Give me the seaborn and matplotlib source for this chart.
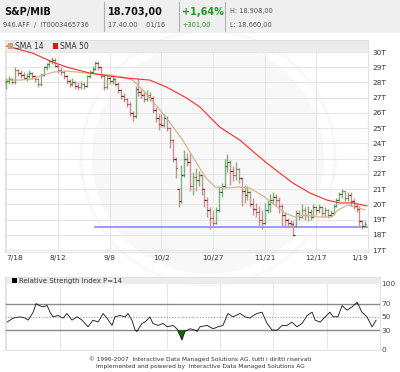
import numpy as np
import seaborn as sns
import matplotlib.pyplot as plt
from matplotlib.patches import Rectangle, Circle


# daily OHLC of the index, in thousands (T)
opens = [
    28.0, 28.1, 28.2, 28.0, 28.8, 28.6, 28.5, 28.3, 28.4, 28.6,
    28.4, 28.2, 27.9, 28.5, 29.0, 29.2, 29.4, 29.5, 29.1, 28.8,
    28.7, 28.4, 28.1, 27.9, 28.0, 27.8, 27.7, 27.9, 27.8, 28.4,
    28.7, 28.9, 29.3, 29.0, 28.4, 27.7, 28.3, 28.1, 28.2, 27.9,
    27.5, 27.1, 26.9, 26.6, 26.0, 25.8, 27.6, 27.4, 27.2, 26.9,
    27.2, 27.0, 26.2, 25.7, 25.3, 25.2, 25.7, 25.0, 24.2, 23.0,
    21.0, 20.2, 21.9, 23.0, 22.8, 21.2, 21.8, 21.6, 21.9, 21.0,
    20.3, 19.6, 19.1, 18.8, 19.6, 20.8, 21.2, 22.5, 22.8, 22.2,
    21.9, 22.3, 21.7, 20.9, 20.6, 20.8, 20.0, 19.7, 19.5, 19.0,
    18.8, 19.6, 20.0, 20.3, 20.5, 20.3, 19.9, 19.3, 19.0, 18.8,
    18.7, 18.6, 19.4, 19.2, 19.6, 19.3, 19.5, 19.2, 19.8, 19.6,
    19.8, 19.4, 19.6, 19.3, 19.4, 19.9, 20.3, 20.7, 20.9, 20.4,
    20.6, 20.2, 19.9, 19.7, 18.9, 18.6,
]
highs = [
    28.3, 28.4, 28.3, 29.0, 28.9, 28.8, 28.7, 28.6, 28.8, 28.7,
    28.5, 28.3, 28.6, 29.1, 29.3, 29.5, 29.7, 29.6, 29.2, 29.0,
    28.8, 28.5, 28.2, 28.3, 28.1, 28.0, 28.1, 28.0, 28.5, 28.8,
    29.1, 29.4, 29.4, 29.1, 28.5, 28.4, 28.5, 28.4, 28.3, 28.0,
    27.6, 27.3, 27.0, 26.7, 26.1, 27.8, 28.3, 27.6, 27.4, 27.5,
    27.4, 27.1, 26.4, 25.9, 25.9, 25.9, 25.8, 25.1, 24.3, 23.1,
    21.1, 22.6, 23.6, 23.4, 23.4, 22.1, 22.4, 22.2, 21.9, 21.1,
    20.5, 19.8, 19.6, 19.8, 21.2, 21.4, 23.0, 23.3, 22.9, 22.5,
    22.8, 22.4, 21.8, 21.3, 21.2, 20.9, 20.4, 20.1, 19.9, 19.6,
    20.1, 20.3, 20.7, 20.8, 20.7, 20.5, 20.0, 19.5, 19.1, 19.0,
    18.9, 19.6, 19.6, 20.0, 19.8, 19.9, 19.7, 20.0, 19.9, 20.0,
    19.9, 19.8, 19.7, 19.6, 20.0, 20.4, 20.8, 21.0, 20.9, 20.8,
    20.8, 20.4, 20.1, 19.9, 19.0, 18.9,
]
lows = [
    27.6, 27.9, 27.9, 27.9, 28.4, 28.3, 28.2, 28.1, 28.3, 28.2,
    28.0, 27.7, 27.8, 28.4, 28.8, 29.0, 29.2, 29.0, 28.6, 28.5,
    28.2, 27.9, 27.7, 27.8, 27.6, 27.5, 27.6, 27.6, 27.7, 28.3,
    28.6, 28.8, 28.8, 28.3, 27.5, 27.6, 27.9, 27.9, 27.8, 27.3,
    26.9, 26.7, 26.4, 25.8, 25.5, 25.7, 27.1, 27.0, 26.7, 26.8,
    26.8, 26.0, 25.4, 24.9, 25.1, 25.1, 24.8, 23.7, 22.8, 21.7,
    19.8, 20.1, 21.8, 22.5, 20.9, 20.6, 20.9, 21.2, 20.6, 19.8,
    19.2, 18.4, 18.5, 18.7, 19.5, 20.5, 21.1, 22.1, 21.3, 21.5,
    21.6, 21.4, 19.9, 20.1, 20.3, 19.8, 19.3, 19.2, 18.5, 18.4,
    18.7, 19.4, 19.5, 20.0, 19.9, 19.4, 18.6, 18.5, 18.5, 18.5,
    17.9, 18.6, 19.0, 19.1, 19.0, 18.9, 19.0, 19.1, 19.3, 19.4,
    19.2, 19.2, 19.1, 19.2, 19.3, 19.8, 20.2, 20.4, 20.2, 20.2,
    19.9, 19.7, 19.5, 18.6, 18.4, 18.5,
]
closes = [
    28.1, 28.2, 28.0, 28.8, 28.6, 28.5, 28.3, 28.4, 28.6, 28.4,
    28.2, 27.9, 28.5, 29.0, 29.2, 29.4, 29.5, 29.1, 28.8, 28.7,
    28.4, 28.1, 27.9, 28.0, 27.8, 27.7, 27.9, 27.8, 28.4, 28.7,
    28.9, 29.3, 29.0, 28.4, 27.7, 28.3, 28.1, 28.2, 27.9, 27.5,
    27.1, 26.9, 26.6, 26.0, 25.8, 27.6, 27.4, 27.2, 26.9, 27.2,
    27.0, 26.2, 25.7, 25.3, 25.2, 25.7, 25.0, 24.2, 23.0, 22.4,
    20.2, 21.9, 23.0, 22.8, 21.2, 21.8, 21.6, 21.9, 21.0, 20.3,
    19.6, 19.1, 18.8, 19.6, 20.8, 21.2, 22.5, 22.8, 22.2, 21.9,
    22.3, 21.7, 20.9, 20.6, 20.8, 20.0, 19.7, 19.5, 19.0, 18.8,
    19.6, 20.0, 20.3, 20.5, 20.3, 19.9, 19.3, 19.0, 18.8, 18.7,
    18.0, 19.4, 19.2, 19.6, 19.3, 19.5, 19.2, 19.8, 19.6, 19.8,
    19.4, 19.6, 19.3, 19.4, 19.9, 20.3, 20.7, 20.9, 20.4, 20.6,
    20.2, 19.9, 19.7, 18.9, 18.6, 18.7,
]

date_labels = ["7/18", "8/12", "9/8", "10/2", "10/27", "11/21", "12/17", "1/19"]
date_pos = [0, 18, 36, 54, 72, 90, 108, 126]

# moving averages (bar index, value)
sma14_idx = [0, 4.5, 9.1, 12.6, 16.8, 20.9, 24.4, 27.9, 31.4, 36, 40.5, 44, 47.8,
             54.1, 57.6, 61.5, 64, 65.7, 69.2, 72.7, 77.1, 80.6, 84.8, 90, 93.5,
             97, 100.5, 104, 108.6, 113.4, 115.5, 119, 122.5, 125]
sma14_val = [28.16, 28.16, 28.23, 28.49, 28.69, 28.75, 28.69, 28.62, 28.56, 28.49,
             28.36, 28.16, 27.45, 26.06, 25.2, 24.2, 23.4, 22.9, 21.8, 21.14, 21.07,
             21.14, 21.07, 20.48, 19.95, 19.43, 19.17, 19.3, 19.17, 19.17, 19.63,
             19.95, 19.76, 19.63]
sma50_idx = [0, 9.1, 16.1, 20.9, 29, 36, 41.9, 49.9, 55.8, 62.8, 67.4, 74.3, 81.3,
             90.7, 99.8, 105.8, 111.7, 116.2, 120.8, 125.7]
sma50_val = [30.4, 29.93, 29.34, 29.02, 28.62, 28.42, 28.29, 28.16, 27.7, 26.98,
             26.39, 25.08, 24.22, 22.71, 21.4, 20.74, 20.28, 20.09, 20.09, 19.89]

support_level = 18.5
support_from = 30.4

# RSI(14)
rsi_idx = [0.2, 2.2, 4.6, 6.3, 7.3, 9.0, 10.0, 11.0, 12.3, 13.7, 14.7, 15.7, 17.4,
           19.1, 20.4, 22.1, 23.8, 25.5, 27.5, 29.2, 30.9, 32.6, 33.9, 35.6, 36.6,
           38.3, 40.0, 41.0, 42.3, 43.4, 44.0, 45.7, 46.7, 48.4, 49.4, 51.1, 52.8,
           54.2, 56.2, 57.5, 59.2, 60.2, 61.9, 63.6, 64.3, 65.3, 67.7, 69.7, 71.4,
           73.0, 74.7, 76.4, 78.8, 80.5, 82.2, 83.2, 84.5, 86.2, 87.9, 89.6, 91.3,
           93.0, 94.6, 96.3, 98.0, 99.7, 101.4, 103.1, 104.1, 105.8, 107.5, 109.1,
           110.2, 111.8, 113.2, 114.9, 116.6, 118.3, 119.9, 121.6, 123.3, 124.7]
rsi_val = [42, 48, 50, 48, 45, 57, 70, 67, 65, 67, 57, 50, 52, 48, 55, 45, 50, 45,
           35, 45, 42, 55, 48, 37, 50, 52, 50, 55, 45, 30, 28, 40, 42, 50, 40, 37,
           40, 35, 37, 32, 15, 28, 32, 30, 28, 35, 37, 32, 35, 37, 55, 50, 55, 50,
           48, 52, 55, 57, 40, 30, 30, 37, 37, 42, 35, 40, 52, 57, 45, 42, 50, 57,
           50, 50, 67, 60, 65, 72, 57, 50, 35, 45]

UP_BAR, UP_TICK = "#7fb27f", "#1f6f1f"
DOWN_BAR, DOWN_TICK = "#c49494", "#8b1010"
GRID = "#e6e6e6"
BAND = "#ececec"
WATERMARK = "#f8f8f8"

sns.set_theme(style="white")
plt.rcParams["font.family"] = ["DejaVu Sans"]

W, H = 400, 372


def box(left, top, right, bottom):
    # pixel box -> figure fraction
    return [left / W, 1 - bottom / H, (right - left) / W, (bottom - top) / H]


fig = plt.figure(figsize=(4, 3.72), dpi=100)
fig.patch.set_facecolor("white")

# faint watermark behind everything
bg = fig.add_axes([0, 0, 1, 1], zorder=0)
bg.set_xlim(0, W)
bg.set_ylim(H, 0)
bg.axis("off")
bg.add_patch(Circle((208, 158), 116, fc=WATERMARK, ec="none"))
bg.add_patch(Circle((208, 158), 127, fc="none", ec=WATERMARK, lw=2))

# ---- price panel ----
ax = fig.add_axes(box(5, 40, 368, 252), zorder=1)
ax.set_facecolor("none")

o = np.array(opens)
h = np.array(highs)
lo = np.array(lows)
c = np.array(closes)
x = np.arange(len(c))
up = c >= o

ax.vlines(x[up], lo[up], h[up], color=UP_BAR, lw=1.0, zorder=3)
ax.vlines(x[~up], lo[~up], h[~up], color=DOWN_BAR, lw=1.0, zorder=3)
tick_cols = np.where(up, UP_TICK, DOWN_TICK)
ax.hlines(o, x - 0.45, x, colors=tick_cols, lw=0.9, zorder=3)
ax.hlines(c, x, x + 0.45, colors=tick_cols, lw=0.9, zorder=3)

sns.lineplot(x=sma14_idx, y=sma14_val, ax=ax, color="#d8b48e", lw=0.9,
             estimator=None, zorder=4)
sns.lineplot(x=sma50_idx, y=sma50_val, ax=ax, color="#ff2a2a", lw=0.8,
             estimator=None, zorder=4)
ax.hlines(support_level, support_from, 126, color="#8080ff", lw=1.1, zorder=2)

ax.axhspan(30.0, 31.0, color=BAND, lw=0, zorder=1.5)
ax.set_xlim(-0.5, 126)
ax.set_ylim(16.87, 30.79)
ax.set_yticks(range(17, 31))
ax.set_yticklabels([f"{v}T" for v in range(17, 31)])
ax.yaxis.tick_right()
ax.set_xticks(date_pos)
ax.set_xticklabels(date_labels)
ax.tick_params(axis="y", length=0, pad=3, labelsize=5.3, labelcolor="#333333")
ax.tick_params(axis="x", length=0, pad=2, labelsize=5.3, labelcolor="#333333")
xl = ax.get_xticklabels()
xl[0].set_ha("left")
xl[-1].set_ha("right")
ax.grid(True, color=GRID, lw=0.8)
ax.set_axisbelow(True)
ax.set(xlabel="", ylabel="")
for sp in ax.spines.values():
    sp.set_color("#dddddd")
    sp.set_linewidth(0.6)

# ---- RSI panel ----
rx = fig.add_axes(box(5, 277, 380, 350), zorder=1)
rx.set_facecolor("none")
ri = np.array(rsi_idx)
rv = np.array(rsi_val)
rx.axhspan(100, 110, color=BAND, lw=0, zorder=1)
rx.axhline(70, color="#8a8a8a", lw=1.0, zorder=2)
rx.axhline(30, color="#8a8a8a", lw=1.0, zorder=2)
rx.axhline(50, color="#999999", lw=0.8, ls=(0, (1, 1.5)), zorder=2)
rx.fill_between(ri, rv, 30, where=rv < 30, interpolate=True, color="#0b6b0b",
                lw=0, zorder=3)
rx.fill_between(ri, rv, 70, where=rv > 70, interpolate=True, color="#a00000",
                lw=0, zorder=3)
sns.lineplot(x=rsi_idx, y=rsi_val, ax=rx, color="#111111", lw=0.6,
             estimator=None, zorder=4)
rx.set_xlim(-0.5, 126)
rx.set_ylim(0, 110)
rx.set_xticks(date_pos)
rx.set_xticklabels([])
rx.set_yticks([0, 30, 50, 70, 100])
rx.yaxis.tick_right()
rx.tick_params(axis="y", length=0, pad=1, labelsize=5.3, labelcolor="#444444")
rx.tick_params(axis="x", length=0)
rx.grid(True, axis="x", color=GRID, lw=0.8)
rx.set_axisbelow(True)
rx.set(xlabel="", ylabel="")
for sp in rx.spines.values():
    sp.set_color("#dddddd")
    sp.set_linewidth(0.6)

# ---- header, legends, footer ----
top = fig.add_axes([0, 0, 1, 1], zorder=5)
top.set_xlim(0, W)
top.set_ylim(H, 0)
top.axis("off")

top.add_patch(Rectangle((0, 0), W, 33, fc="#efefef", ec="none"))
for sx in [104, 179, 225]:
    top.plot([sx, sx], [2, 31], color="#b0b0b0", lw=0.8)
top.text(4, 12, "S&P/MIB", fontsize=7, fontweight="bold", va="center", color="#111111")
top.text(3, 24.5, "946.AFF  /  IT0003465736", fontsize=4.8, va="center", color="#555555")
top.text(108, 12, "18.703,00", fontsize=7, fontweight="bold", va="center", color="#111111")
top.text(108, 24.5, "17.40.00    01/16", fontsize=4.8, va="center", color="#555555")
top.text(182, 12, "+1,64%", fontsize=7, fontweight="bold", va="center", color="#1e9a1e")
top.text(182, 24.5, "+301,00", fontsize=4.8, va="center", color="#1e9a1e")
top.text(230, 11.5, "H: 18.908,00", fontsize=4.8, va="center", color="#555555")
top.text(230, 24.5, "L: 18.660,00", fontsize=4.8, va="center", color="#555555")

top.add_patch(Rectangle((8, 43), 5, 6, fc="#c8a47c", ec="none"))
top.text(15, 46.3, "SMA 14", fontsize=5.5, va="center", color="#333333")
top.add_patch(Rectangle((53, 43), 5, 6, fc="#ee1111", ec="none"))
top.text(60, 46.3, "SMA 50", fontsize=5.5, va="center", color="#333333")

top.add_patch(Rectangle((12, 278), 5, 5, fc="black", ec="none"))
top.text(19, 280.7, "Relative Strength Index P=14", fontsize=5, va="center",
         color="#333333")

top.text(200, 359, "\u00a9 1996-2007  Interactive Data Managed Solutions AG, tutti i diritti riservati",
         fontsize=4.2, ha="center", va="center", color="#333333")
top.text(200, 366.5, "Implemented and powered by  Interactive Data Managed Solutions AG",
         fontsize=4.2, ha="center", va="center", color="#333333")

fig.savefig("out.png", dpi=100)
